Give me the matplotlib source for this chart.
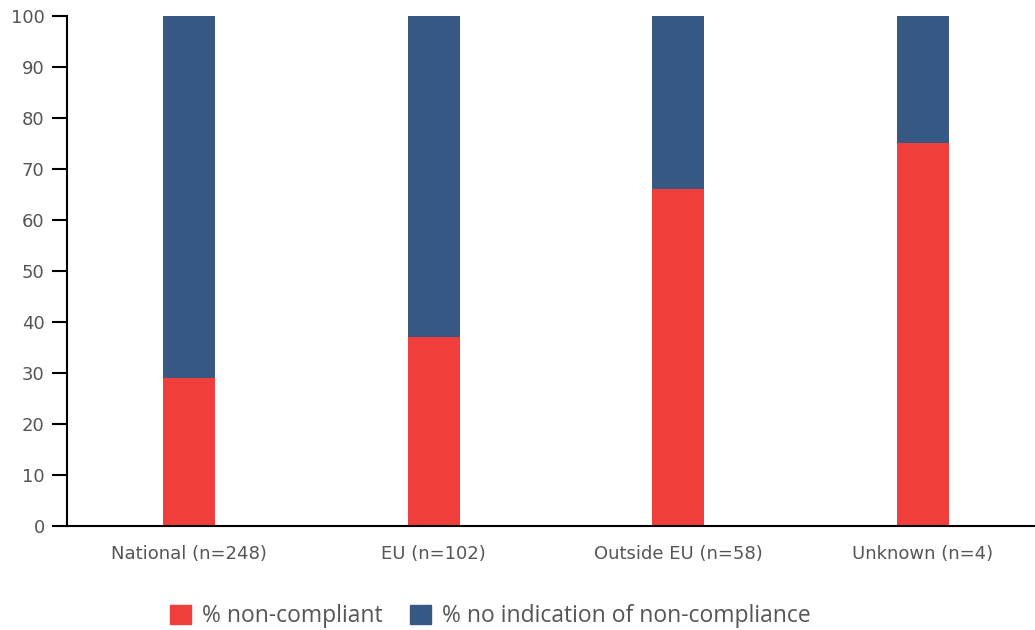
import matplotlib.pyplot as plt
from matplotlib.patches import Patch

# Herkunft der Produkte und Anteil beanstandeter Proben (%)
kategorien = ["National (n=248)", "EU (n=102)", "Outside EU (n=58)", "Unknown (n=4)"]
nicht_konform = [29, 37, 66, 75]
keine_hinweise = [71, 63, 34, 25]

rot = "#EF3E3C"
blau = "#375883"
grau = "#555555"

fig = plt.figure(figsize=(10.35, 6.3), dpi=100)
ax = fig.add_axes([0.0647, 0.165, 0.9353, 0.81])

x = range(len(kategorien))
ax.bar(x, nicht_konform, width=0.213, color=rot)
ax.bar(x, keine_hinweise, width=0.213, bottom=nicht_konform, color=blau)

ax.set_xlim(-0.5, 3.46)
ax.set_ylim(0, 100)
ax.set_yticks(range(0, 101, 10))
ax.set_xticks(list(x))
ax.set_xticklabels(kategorien, fontsize=13, color=grau, family="DejaVu Sans")
ax.tick_params(axis="x", length=0, pad=14)
ax.tick_params(axis="y", length=11, width=1.5, labelsize=13, labelcolor=grau, pad=5)

for s in ["top", "right"]:
    ax.spines[s].set_visible(False)
ax.spines["left"].set_linewidth(1.5)
ax.spines["bottom"].set_linewidth(1.5)

# Legende unterhalb der Achse
handles = [Patch(color=rot, label="% non-compliant"),
           Patch(color=blau, label="% no indication of non-compliance")]
fig.legend(handles=handles, loc="center", bbox_to_anchor=(0.474, 0.022),
           ncol=2, frameon=False, handlelength=0.9, handleheight=0.9,
           handletextpad=0.5, columnspacing=1.2, labelcolor=grau,
           prop={"family": "Open Sans", "size": 16.5})

fig.savefig("out.png", dpi=100)
